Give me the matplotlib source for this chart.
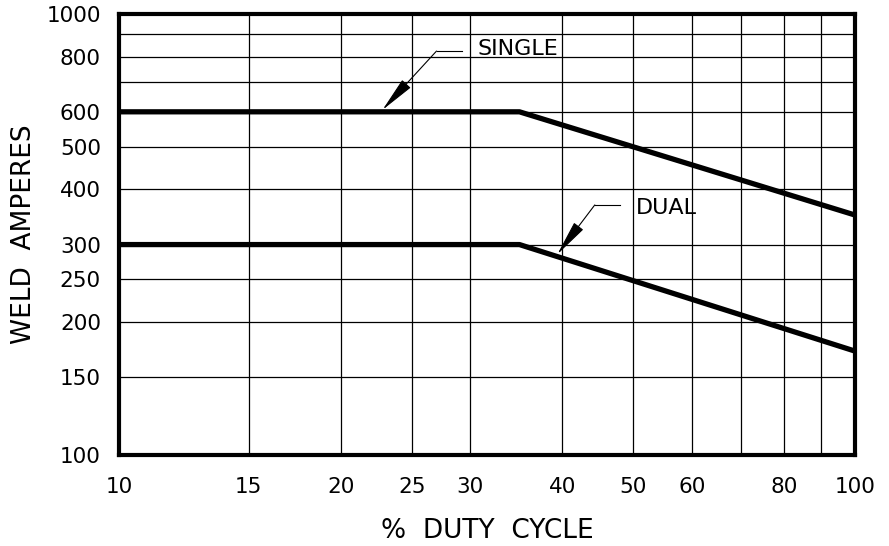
import matplotlib
matplotlib.use("Agg")
import matplotlib.pyplot as plt
from matplotlib.ticker import FixedLocator, NullFormatter

# duty cycle (%) vs rated weld current (A)
duty = [10, 35, 100]
single_amps = [600, 600, 350]
dual_amps = [300, 300, 172]

x_labels = [10, 15, 20, 25, 30, 40, 50, 60, 80, 100]
x_extra_grid = [70, 90]
y_labels = [100, 150, 200, 250, 300, 400, 500, 600, 800, 1000]
y_extra_grid = [700, 900]

plt.rcParams['font.family'] = ['DejaVu Sans']

fig = plt.figure(figsize=(8.89, 5.46), dpi=100)
ax = fig.add_axes([0.1339, 0.1667, 0.8279, 0.8077])
ax.set_xscale('log')
ax.set_yscale('log')
ax.set_xlim(10, 100)
ax.set_ylim(100, 1000)

ax.xaxis.set_major_locator(FixedLocator(x_labels))
ax.xaxis.set_minor_locator(FixedLocator(x_extra_grid))
ax.yaxis.set_major_locator(FixedLocator(y_labels))
ax.yaxis.set_minor_locator(FixedLocator(y_extra_grid))
ax.set_xticklabels([str(v) for v in x_labels])
ax.set_yticklabels([str(v) for v in y_labels])
ax.xaxis.set_minor_formatter(NullFormatter())
ax.yaxis.set_minor_formatter(NullFormatter())
ax.tick_params(which='both', length=0, labelsize=15.5)
ax.tick_params(axis='x', pad=16)
ax.tick_params(axis='y', pad=13)

ax.grid(True, which='both', color='black', lw=0.9)
ax.set_axisbelow(True)
for s in ax.spines.values():
    s.set_linewidth(3)
    s.set_zorder(5)

ax.plot(duty, single_amps, color='black', lw=3.8, solid_capstyle='butt', zorder=3)
ax.plot(duty, dual_amps, color='black', lw=3.8, solid_capstyle='butt', zorder=3)

arrow = dict(arrowstyle='-|>,head_length=1.25,head_width=0.2', color='black',
             lw=0.8, mutation_scale=18, shrinkA=0, shrinkB=0)

# SINGLE callout
ax.plot([27.0, 29.2], [824, 824], color='black', lw=0.8, zorder=4)
ax.annotate('', xy=(22.8, 606), xytext=(27.0, 824), arrowprops=arrow, zorder=4)
ax.text(30.7, 833, 'SINGLE', fontsize=16, va='center', ha='left')

# DUAL callout
ax.plot([44.3, 47.9], [369, 369], color='black', lw=0.8, zorder=4)
ax.annotate('', xy=(39.4, 285), xytext=(44.3, 369), arrowprops=arrow, zorder=4)
ax.text(50.4, 363, 'DUAL', fontsize=16, va='center', ha='left')

ax.set_xlabel('%  DUTY  CYCLE', fontsize=19, labelpad=15)
ax.set_ylabel('WELD  AMPERES', fontsize=19, labelpad=7)

fig.savefig('out.png', dpi=100)
